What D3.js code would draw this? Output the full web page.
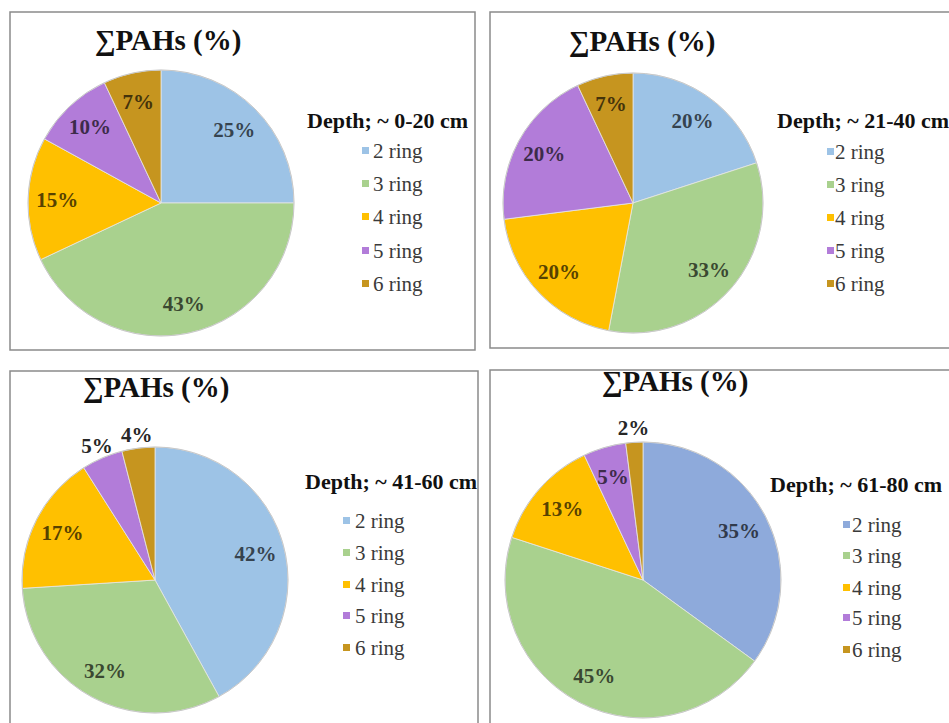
<!DOCTYPE html>
<html>
<head>
<meta charset="utf-8">
<script src="https://cdn.jsdelivr.net/npm/d3@7"></script>
<style>
  html, body { margin: 0; padding: 0; background: #fff; }
  svg { display: block; }
</style>
</head>
<body>
<svg id="chart" width="949" height="723"></svg>
<script>
// Ring classes, drawn clockwise from 12 o'clock
const categories = ["2 ring", "3 ring", "4 ring", "5 ring", "6 ring"];

// Share of total PAHs (%) per depth interval
const depthLabels = ["Depth; ~ 0-20 cm", "Depth; ~ 21-40 cm", "Depth; ~ 41-60 cm", "Depth; ~ 61-80 cm"];
const values0to20 = [25, 43, 15, 10, 7];
const values21to40 = [20, 33, 20, 20, 7];
const values41to60 = [42, 32, 17, 5, 4];
const values61to80 = [35, 45, 13, 5, 2];

const chartTitle = "\u2211PAHs (%)";

// Slice colours
const palette = ["#9dc3e6", "#a9d18e", "#ffc000", "#b27cd9", "#c6951f"];
const paletteDeep = ["#8eaadb", "#a9d18e", "#ffc000", "#b27cd9", "#c6951f"];

// Panel layout (box, pie, title, legend positions)
const panels = [
  { values: values0to20, colors: palette, box: [10, 12, 465, 338], cx: 161, cy: 203, r: 133,
    title: [168, 50], legend: { x: 307, y: 128, sw: 362, tx: 373, rows: [158, 191, 224, 258, 291] },
    outside: [] },
  { values: values21to40, colors: palette, box: [490, 12, 470, 336], cx: 633, cy: 203, r: 130,
    title: [642, 51], legend: { x: 777, y: 128, sw: 827, tx: 835, rows: [159, 192, 225, 258, 291] },
    outside: [] },
  { values: values41to60, colors: palette, box: [10, 371, 468, 360], cx: 155, cy: 580, r: 133,
    title: [156, 397], legend: { x: 305, y: 489, sw: 343, tx: 355, rows: [528, 560, 592, 623, 655] },
    outside: [3, 4] },
  { values: values61to80, colors: paletteDeep, box: [490, 370, 470, 360], cx: 643, cy: 580, r: 138,
    title: [675, 391], legend: { x: 770, y: 492, sw: 843, tx: 852, rows: [532, 563, 595, 625, 657] },
    outside: [4] }
];

const svg = d3.select("#chart");
const serif = '"Liberation Serif"';

const pie = d3.pie().sort(null).value(d => d.value);

panels.forEach((p, i) => {
  const g = svg.append("g");

  // panel frame
  g.append("rect")
    .attr("x", p.box[0]).attr("y", p.box[1])
    .attr("width", p.box[2]).attr("height", p.box[3])
    .attr("fill", "#fff")
    .attr("stroke", "#8a8a8a").attr("stroke-width", 1.5);

  // title
  g.append("text")
    .attr("x", p.title[0]).attr("y", p.title[1])
    .attr("text-anchor", "middle")
    .style("font-family", serif)
    .style("font-weight", "bold")
    .style("font-size", "29px").attr("fill", "#111")
    .text(chartTitle);

  const color = d3.scaleOrdinal().domain(categories).range(p.colors);
  const rows = categories.map((c, k) => ({ key: c, value: p.values[k] }));
  const arcs = pie(rows);
  const arc = d3.arc().innerRadius(0).outerRadius(p.r);
  const inLabel = d3.arc().innerRadius(p.r * 0.78).outerRadius(p.r * 0.78);
  const outLabel = d3.arc().innerRadius(p.r * 1.1).outerRadius(p.r * 1.1);

  const pg = g.append("g").attr("transform", `translate(${p.cx},${p.cy})`);

  pg.selectAll("path.slice")
    .data(arcs)
    .join("path")
    .attr("class", "slice")
    .attr("d", arc)
    .attr("fill", d => color(d.data.key))
    .attr("stroke", "#e6e6e6")
    .attr("stroke-width", 0.8);

  // outer rim
  pg.append("circle").attr("r", p.r)
    .attr("fill", "none").attr("stroke", "#c8c8c8").attr("stroke-width", 1);

  pg.selectAll("text.value")
    .data(arcs)
    .join("text")
    .attr("class", "value")
    .attr("transform", d => {
      const k = categories.indexOf(d.data.key);
      const c = (p.outside.includes(k) ? outLabel : inLabel).centroid(d);
      return `translate(${c[0]},${c[1]})`;
    })
    .attr("text-anchor", "middle")
    .attr("dominant-baseline", "central")
    .style("font-family", serif)
    .style("font-weight", "bold")
    .style("font-size", "21px")
    .attr("fill", d => {
      const k = categories.indexOf(d.data.key);
      if (p.outside.includes(k)) return "#262626";
      return d3.color(color(d.data.key)).darker(3).formatHex();
    })
    .text(d => d.data.value + "%");

  // legend
  const lg = g.append("g");
  lg.append("text")
    .attr("x", p.legend.x).attr("y", p.legend.y)
    .style("font-family", serif)
    .style("font-weight", "bold")
    .style("font-size", "22px").attr("fill", "#111")
    .text(depthLabels[i]);

  const items = lg.selectAll("g.item")
    .data(categories)
    .join("g").attr("class", "item");

  items.append("rect")
    .attr("x", p.legend.sw)
    .attr("y", (d, k) => p.legend.rows[k] - 11)
    .attr("width", 7).attr("height", 7)
    .attr("fill", d => color(d));

  items.append("text")
    .attr("x", p.legend.tx)
    .attr("y", (d, k) => p.legend.rows[k])
    .style("font-family", serif)
    .style("font-size", "21px").attr("fill", "#3a3a3a")
    .text(d => d);
});
</script>
</body>
</html>
